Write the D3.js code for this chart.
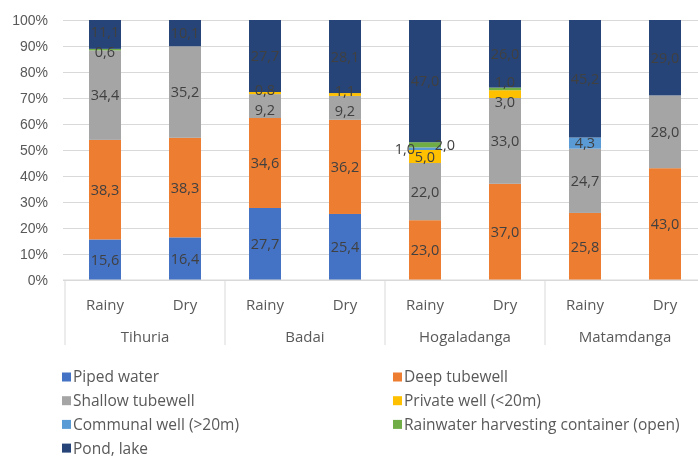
<!DOCTYPE html>
<html>
<head>
<meta charset="utf-8">
<script src="https://cdn.jsdelivr.net/npm/d3@7"></script>
<style>
  html, body { margin: 0; padding: 0; background: #fff; }
  svg { display: block; font-family: "Open Sans", Lato, sans-serif; filter: blur(0.45px); }
</style>
</head>
<body>
<svg id="chart" width="698" height="458"></svg>
<script>
// Village / season categories along the x axis
const villages = ["Tihuria", "Badai", "Hogaladanga", "Matamdanga"];
const seasons = ["Rainy", "Dry"];

// Share of households (%) by main water source, one value per village-season bar
const pipedWater   = [15.6, 16.4, 27.7, 25.4, 0,    0,    0,    0];
const deepTubewell = [38.3, 38.3, 34.6, 36.2, 23.0, 37.0, 25.8, 43.0];
const shallowTube  = [34.4, 35.2, 9.2,  9.2,  22.0, 33.0, 24.7, 28.0];
const privateWell  = [0,    0,    0.8,  1.1,  5.0,  3.0,  0,    0];
const communalWell = [0,    0,    0,    0,    1.0,  0,    4.3,  0];
const rainwater    = [0.6,  0,    0,    0,    2.0,  1.0,  0,    0];
const pondLake     = [11.1, 10.1, 27.7, 28.1, 47.0, 26.0, 45.2, 29.0];

const sourceNames = [
  "Piped water", "Deep tubewell", "Shallow tubewell", "Private well (<20m)",
  "Communal well (>20m)", "Rainwater harvesting container (open)", "Pond, lake"
];
const sourceValues = [pipedWater, deepTubewell, shallowTube, privateWell, communalWell, rainwater, pondLake];
const sourceColors = ["#4472C4", "#ED7D31", "#A5A5A5", "#FFC000", "#5B9BD5", "#70AD47", "#264478"];
const yTicks = [0, 10, 20, 30, 40, 50, 60, 70, 80, 90, 100];

// Build one row per bar for d3.stack
const bars = [];
villages.forEach((v, vi) => seasons.forEach((s, si) => {
  const i = vi * seasons.length + si;
  const row = { key: i, village: v, season: s };
  sourceNames.forEach((n, k) => { row[n] = sourceValues[k][i]; });
  bars.push(row);
}));

const svg = d3.select("#chart");
const plotTop = 20, plotBottom = 280, plotLeft = 65, plotRight = 705;
const textColor = "#595959";

const x = d3.scaleBand()
  .domain(bars.map(d => d.key))
  .range([plotLeft, plotRight])
  .paddingInner(0.6)
  .paddingOuter(0.3);

const y = d3.scaleLinear().domain([0, 100]).range([plotBottom, plotTop]);
const color = d3.scaleOrdinal().domain(sourceNames).range(sourceColors);

// Horizontal gridlines and y tick labels
const yAxis = d3.axisLeft(y)
  .tickValues(yTicks)
  .tickSize(-(698 - 63))
  .tickFormat(d => d + "%");
const gy = svg.append("g").attr("transform", "translate(63,0)").call(yAxis);
gy.select(".domain").remove();
gy.selectAll(".tick line").attr("stroke", "#d9d9d9").attr("stroke-width", 1);
gy.selectAll(".tick text")
  .attr("x", -15)
  .attr("fill", textColor)
  .style("font-size", "14px");

// Stacked bars
const stack = d3.stack().keys(sourceNames);
const layers = stack(bars);

svg.append("g").selectAll("g")
  .data(layers)
  .join("g")
  .attr("fill", d => color(d.key))
  .selectAll("rect")
  .data(d => d.filter(p => p[1] - p[0] > 0))
  .join("rect")
  .attr("x", p => x(p.data.key))
  .attr("width", x.bandwidth())
  .attr("y", p => y(p[1]))
  .attr("height", p => y(p[0]) - y(p[1]));

// Data labels, centred in each segment; tiny neighbouring segments are spread
// sideways, and labels that would collide vertically are nudged apart
const fmt = v => v.toFixed(1).replace(".", ",");
const minGap = 20;
const labels = [];
bars.forEach((b, bi) => {
  const segs = layers.map(L => ({ key: L.key, lo: L[bi][0], hi: L[bi][1] }))
    .filter(s => s.hi - s.lo > 0);
  const tiny = segs.filter(s => s.hi - s.lo < 2.5);
  const spread = tiny.length > 1;
  const barLabels = segs.map(s => {
    let dx = 0;
    const t = tiny.indexOf(s);
    if (spread && t >= 0) dx = t === 0 ? -20 : 20;
    return {
      x: x(b.key) + x.bandwidth() / 2 + dx,
      y: y((s.lo + s.hi) / 2),
      spread: spread && t >= 0,
      text: fmt(s.hi - s.lo)
    };
  });
  // stacked bottom-to-top: each label must sit at least minGap above the previous one
  for (let pass = 0; pass < 6; pass++) {
    for (let k = 1; k < barLabels.length; k++) {
      const a = barLabels[k - 1], c = barLabels[k];
      if (a.spread || c.spread) continue;
      const gap = a.y - c.y;
      if (gap < minGap) {
        const shift = (minGap - gap) / 2;
        a.y += shift;
        c.y -= shift;
      }
    }
  }
  labels.push(...barLabels);
});

svg.append("g").selectAll("text")
  .data(labels)
  .join("text")
  .attr("x", d => d.x)
  .attr("y", d => d.y)
  .attr("dy", "0.35em")
  .attr("text-anchor", "middle")
  .attr("fill", "#404040")
  .style("font-size", "14.5px")
  .text(d => d.text);

// Category axis: baseline, group separators, season and village labels
svg.append("line")
  .attr("x1", 63).attr("x2", 698)
  .attr("y1", y(0)).attr("y2", y(0))
  .attr("stroke", "#d9d9d9");

// Each village spans exactly two band steps
const groupStep = x.step() * seasons.length;
const edges = d3.range(villages.length + 1).map(i => plotLeft + i * groupStep);

svg.append("g").selectAll("line")
  .data(edges)
  .join("line")
  .attr("x1", d => d).attr("x2", d => d)
  .attr("y1", y(0)).attr("y2", 345)
  .attr("stroke", "#d9d9d9");

svg.append("g").selectAll("text")
  .data(bars)
  .join("text")
  .attr("x", d => x(d.key) + x.bandwidth() / 2)
  .attr("y", 305)
  .attr("dy", "0.35em")
  .attr("text-anchor", "middle")
  .attr("fill", textColor)
  .style("font-size", "15px")
  .text(d => d.season);

svg.append("g").selectAll("text")
  .data(villages)
  .join("text")
  .attr("x", (d, i) => plotLeft + (i + 0.5) * groupStep)
  .attr("y", 337)
  .attr("dy", "0.35em")
  .attr("text-anchor", "middle")
  .attr("fill", textColor)
  .style("font-size", "15px")
  .text(d => d);

// Legend in two columns
const legend = svg.append("g").selectAll("g")
  .data(sourceNames)
  .join("g")
  .attr("transform", (d, i) => `translate(${i % 2 === 0 ? 62 : 393},${377 + Math.floor(i / 2) * 23.7})`);

legend.append("rect")
  .attr("x", 0).attr("y", -4.5)
  .attr("width", 9).attr("height", 9)
  .attr("fill", d => color(d));

legend.append("text")
  .attr("x", 11)
  .attr("dy", "0.35em")
  .attr("fill", textColor)
  .style("font-size", "15.5px")
  .text(d => d);
</script>
</body>
</html>
